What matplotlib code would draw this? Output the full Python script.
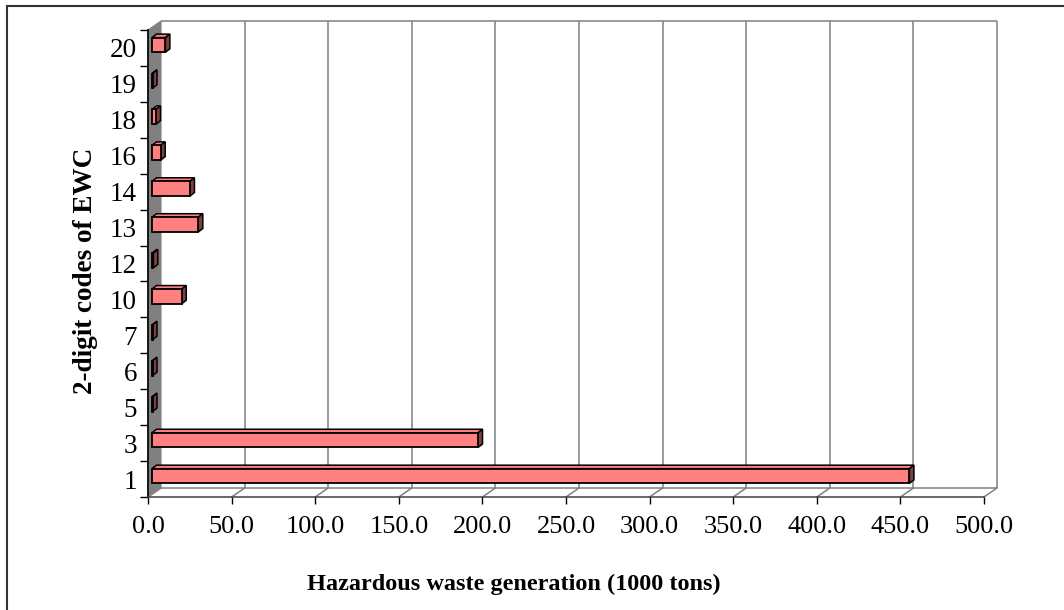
import numpy as np
import matplotlib
matplotlib.use('Agg')
import matplotlib.pyplot as plt
from matplotlib.patches import Polygon
from matplotlib.lines import Line2D

plt.rcParams['font.family'] = ['Liberation Serif', 'DejaVu Serif']

# data
codes = ['1', '3', '5', '6', '7', '10', '12', '13', '14', '16', '18', '19', '20']
waste = [453, 195, 0.3, 0.3, 0.3, 17.8, 0.8, 27.7, 22.7, 5.2, 2.4, 0.3, 8]
xticks = np.arange(0, 501, 50)

face = '#FF8080'
dark = '#804040'
grey = '#808080'

W, H = 1064, 610
fig = plt.figure(figsize=(W/100, H/100), dpi=100)

# front plane of the 3d box, in pixels
L, R, B, T = 148, 984, 497, 30
ax = fig.add_axes([L/W, 1-B/H, (R-L)/W, (B-T)/H])
n = len(codes)
ax.set_xlim(0, 500)
ax.set_ylim(-0.5, n-0.5)

ux = (R-L)/500.0
uy = (B-T)/float(n)
wx, wy = 13/ux, 9/uy      # depth of the walls
fx, fy = 4/ux, 3/uy       # where the bar front sits
bx, by = 4.5/ux, 3.5/uy   # depth of a bar
h = 0.41

# side wall
ax.add_patch(Polygon([(0, -0.5), (0, n-0.5), (wx, n-0.5+wy), (wx, -0.5+wy)],
                     closed=True, facecolor=grey, edgecolor=grey, lw=0.8,
                     clip_on=False, zorder=1))
# back wall gridlines + frame
ax.vlines(xticks[1:]+wx, -0.5+wy, n-0.5+wy, color=grey, lw=1.1, clip_on=False, zorder=1)
ax.hlines([-0.5+wy, n-0.5+wy], wx, 500+wx, color=grey, lw=1.1, clip_on=False, zorder=1)
for v in xticks:
    ax.plot([v, v+wx], [-0.5, -0.5+wy], color=grey, lw=1.1, clip_on=False, zorder=1)

pos = np.arange(n)
ax.barh(pos+fy, waste, left=fx, height=h, color=face, edgecolor='black',
        lw=1.3, zorder=4, clip_on=False)
for y, v in zip(pos+fy, waste):
    top = [(fx, y+h/2), (fx+v, y+h/2), (fx+v+bx, y+h/2+by), (fx+bx, y+h/2+by)]
    side = [(fx+v, y-h/2), (fx+v+bx, y-h/2+by), (fx+v+bx, y+h/2+by), (fx+v, y+h/2)]
    ax.add_patch(Polygon(top, closed=True, facecolor=face, edgecolor='black',
                         lw=1.1, zorder=3, clip_on=False))
    ax.add_patch(Polygon(side, closed=True, facecolor=dark, edgecolor='black',
                         lw=1.1, zorder=3, clip_on=False))

for s in ['top', 'right']:
    ax.spines[s].set_visible(False)
ax.spines['left'].set_color('black')
ax.spines['left'].set_linewidth(1.2)
ax.spines['bottom'].set_color('#404040')
ax.spines['bottom'].set_linewidth(1.1)
ax.set_facecolor('none')

ax.set_yticks(np.arange(-0.5, n, 1))
ax.set_yticklabels([])
ax.set_yticks(pos, minor=True)
ax.set_yticklabels(codes, minor=True)
ax.tick_params(axis='y', which='major', length=6, width=1, color='black')
ax.tick_params(axis='y', which='minor', length=0, pad=8, labelsize=19.5)

ax.set_xticks(xticks)
ax.set_xticklabels(['%.1f' % v for v in xticks])
ax.tick_params(axis='x', length=5, width=1, color='black', pad=9, labelsize=19)

fig.text(514/W, 1-584/H, 'Hazardous waste generation (1000 tons)',
         ha='center', va='center', fontsize=17.5, fontweight='bold')
fig.text(86/W, 1-271/H, '2-digit codes of EWC', rotation=90,
         ha='center', va='center', fontsize=19.5, fontweight='bold')

# chart area border
fig.add_artist(Line2D([7/W, 7/W], [0, 1-6/H], color='#333333', lw=1.5))
fig.add_artist(Line2D([7/W, 1], [1-6/H, 1-6/H], color='#333333', lw=1.5))

fig.savefig('out.png', dpi=100)
